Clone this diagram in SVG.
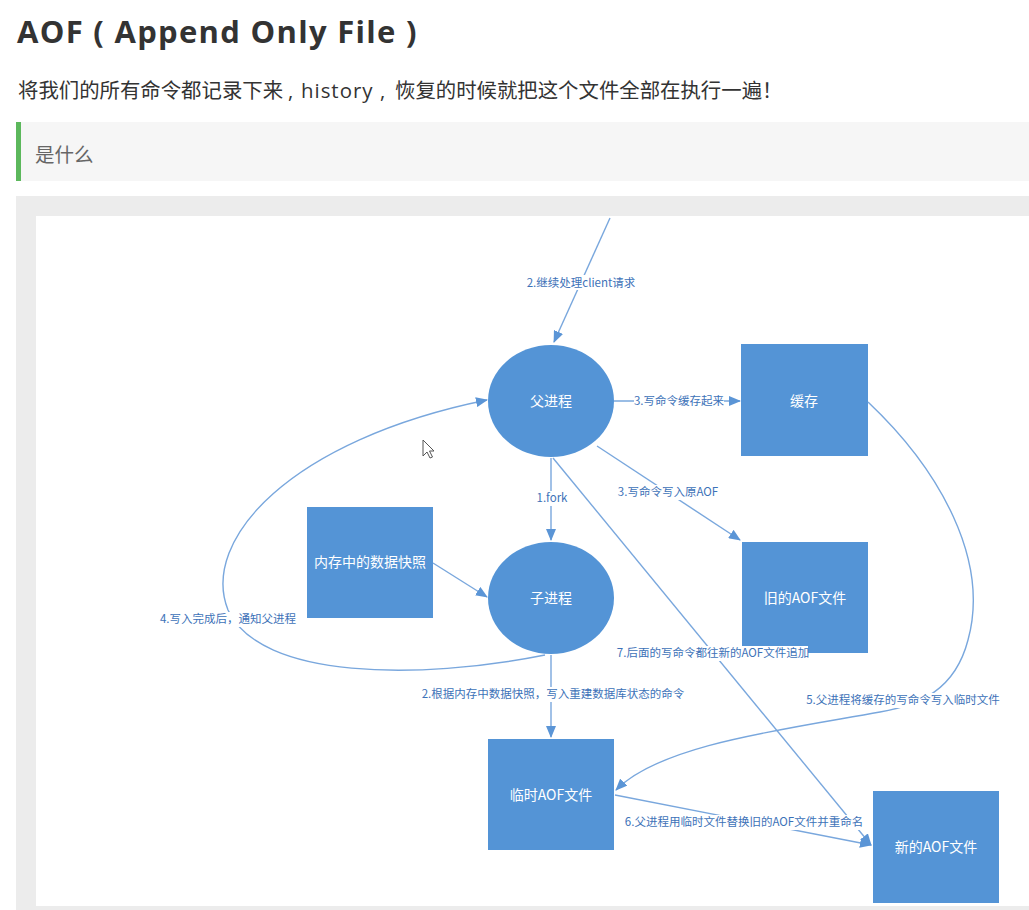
<svg xmlns="http://www.w3.org/2000/svg" width="1029" height="910" viewBox="0 0 1029 910">
<style>
.title{font-family:"Open Sans","Noto Sans CJK SC",sans-serif;font-weight:bold;font-size:31px;letter-spacing:1.3px;fill:#333}
.sub{font-family:"Open Sans","Noto Sans CJK SC",sans-serif;font-size:20.4px;fill:#333}
.quote{font-family:"Open Sans","Noto Sans CJK SC",sans-serif;font-size:19.5px;fill:#666}
.node{fill:#5494d6}
.nt{font-family:"Noto Sans CJK SC",sans-serif;font-size:14px;fill:#fff;text-anchor:middle}
.ln{fill:none;stroke:#79a7dd;stroke-width:1.4}
.lb{font-family:"Noto Sans CJK SC",sans-serif;font-size:11.5px;fill:#3d72b8;text-anchor:middle}
.bg{fill:#fff}
</style>
<defs>
<marker id="ah" markerUnits="userSpaceOnUse" markerWidth="12" markerHeight="10" refX="11" refY="5" orient="auto">
<path d="M0,0 L12,5 L0,10 z" fill="#5b95d6"/>
</marker>
</defs>
<rect width="1029" height="910" fill="#fff"/>
<text class="title" x="17" y="43">AOF ( Append Only File )</text>
<text class="sub" x="18" y="98">将我们的所有命令都记录下来<tspan x="288">,</tspan><tspan x="301" letter-spacing="1px">history</tspan><tspan x="380">,</tspan><tspan x="395">恢复的时候就把这个文件全部在执行一遍！</tspan></text>
<rect x="16" y="122" width="1013" height="59" fill="#f6f6f6"/>
<rect x="16" y="122" width="5" height="59" fill="#5cb85c"/>
<text class="quote" x="35" y="162">是什么</text>
<rect x="16" y="196" width="1013" height="714" fill="#ececec"/>
<rect x="36" y="216" width="993" height="690" fill="#fff"/>
<g id="parent">
<ellipse class="node" cx="551" cy="401" rx="63" ry="56"/>
<text class="nt" x="551" y="406">父进程</text>
</g>
<g id="cache">
<rect class="node" x="741" y="344" width="127" height="112"/>
<text class="nt" x="804" y="406">缓存</text>
</g>
<g id="old-aof">
<rect class="node" x="742" y="542" width="126" height="111"/>
<text class="nt" x="805" y="603">旧的AOF文件</text>
</g>
<g id="snapshot">
<rect class="node" x="307" y="507" width="126" height="111"/>
<text class="nt" x="370" y="567">内存中的数据快照</text>
</g>
<g id="child">
<ellipse class="node" cx="551" cy="598" rx="63" ry="56"/>
<text class="nt" x="551" y="603">子进程</text>
</g>
<g id="temp-aof">
<rect class="node" x="488" y="739" width="126" height="111"/>
<text class="nt" x="551" y="800">临时AOF文件</text>
</g>
<g id="new-aof">
<rect class="node" x="873" y="791" width="126" height="112"/>
<text class="nt" x="936" y="852">新的AOF文件</text>
</g>
<g id="connectors">
<path class="ln" d="M610,218 L554,342" marker-end="url(#ah)"/>
<path class="ln" d="M614,401 L740,401" marker-end="url(#ah)"/>
<path class="ln" d="M597,446 L740,540" marker-end="url(#ah)"/>
<path class="ln" d="M551,458 L551,540" marker-end="url(#ah)"/>
<path class="ln" d="M553,458 L871,845" marker-end="url(#ah)"/>
<path class="ln" d="M433,563 L487,597" marker-end="url(#ah)"/>
<path class="ln" d="M545,655 C420,680 260,680 228,610 C200,540 290,440 487,400" marker-end="url(#ah)"/>
<path class="ln" d="M551,655 L551,737" marker-end="url(#ah)"/>
<path class="ln" d="M868,402 C940,470 990,560 968,640 C955,690 920,705 880,712 C780,730 660,745 616,790" marker-end="url(#ah)"/>
<path class="ln" d="M615,795 L871,845" marker-end="url(#ah)"/>
<rect class="bg" x="528" y="275" width="106" height="15"/>
<text class="lb" x="581" y="287">2.继续处理client请求</text>
<rect class="bg" x="634" y="394" width="90" height="15"/>
<text class="lb" x="679" y="405">3.写命令缓存起来</text>
<rect class="bg" x="619" y="485" width="100" height="15"/>
<text class="lb" x="668" y="496">3.写命令写入原AOF</text>
<rect class="bg" x="536" y="491" width="32" height="15"/>
<text class="lb" x="552" y="502">1.fork</text>
<rect class="bg" x="158" y="612" width="140" height="15"/>
<text class="lb" x="228" y="623">4.写入完成后，通知父进程</text>
<rect class="bg" x="618" y="646" width="190" height="15"/>
<text class="lb" x="713" y="657">7.后面的写命令都往新的AOF文件追加</text>
<rect class="bg" x="422" y="687" width="262" height="15"/>
<text class="lb" x="553" y="698">2.根据内存中数据快照，写入重建数据库状态的命令</text>
<rect class="bg" x="806" y="693" width="194" height="15"/>
<text class="lb" x="903" y="704">5.父进程将缓存的写命令写入临时文件</text>
<rect class="bg" x="626" y="815" width="236" height="15"/>
<text class="lb" x="744" y="826">6.父进程用临时文件替换旧的AOF文件并重命名</text>
</g>
<path d="M423,440 L423,456 L427,452 L430,458 L432.5,457 L429.5,451 L434,451 z" fill="#fff" stroke="#555" stroke-width="1"/>
</svg>
